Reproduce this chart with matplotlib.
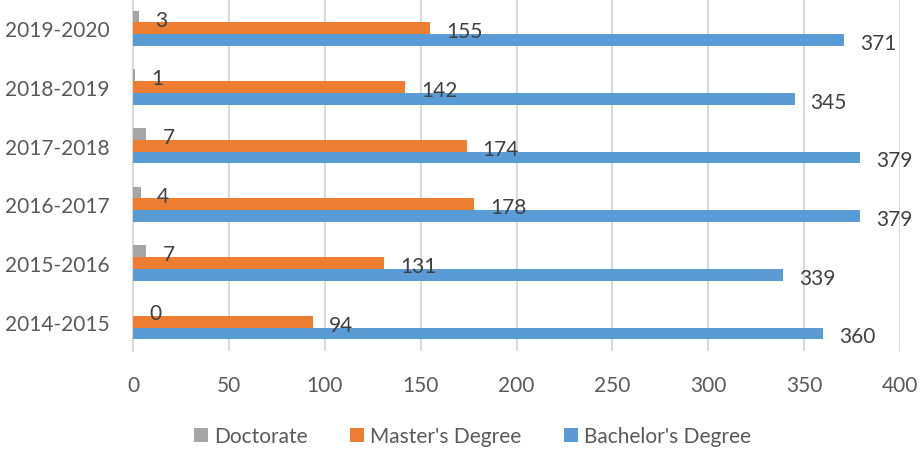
import matplotlib
matplotlib.use("Agg")
import matplotlib.pyplot as plt
import numpy as np

categories = ["2014-2015", "2015-2016", "2016-2017", "2017-2018", "2018-2019", "2019-2020"]
bachelor = [360, 339, 379, 379, 345, 371]
master = [94, 131, 178, 174, 142, 155]
doctorate = [0, 7, 4, 7, 1, 3]
xticks = [0, 50, 100, 150, 200, 250, 300, 350, 400]

plt.rcParams['font.family'] = ['Lato', 'DejaVu Sans']

fig = plt.figure(figsize=(9.22, 4.52), dpi=100)
ax = fig.add_axes([133/922, 1 - 352/452, (900-133)/922, 352/452])

y = np.arange(len(categories))
h = 0.2
series = [
    ("Bachelor's Degree", bachelor, -h, "#5B9BD5"),
    ("Master's Degree", master, 0.0, "#ED7D31"),
    ("Doctorate", doctorate, h, "#A5A5A5"),
]
handles = {}
for name, vals, off, col in series:
    bars = ax.barh(y + off, vals, height=h, color=col, label=name, zorder=3)
    handles[name] = bars
    for yi, v in zip(y + off, vals):
        ax.annotate(str(v), xy=(v, yi), xytext=(11.5, -2.2), textcoords="offset points",
                    ha="left", va="center", fontsize=15, color="#404040", zorder=4)

ax.set_xlim(0, 400)
ax.set_ylim(-0.5, 5.5)
ax.set_xticks(xticks)
ax.set_xticklabels([str(t) for t in xticks])
ax.set_yticks(y)
ax.set_yticklabels(categories)
ax.tick_params(axis="both", length=0, labelsize=15, colors="#595959")
ax.tick_params(axis="x", pad=17)
ax.tick_params(axis="y", pad=17)
ax.xaxis.grid(True, color="#D9D9D9", linewidth=1.5, zorder=0)
for s in ["top", "right", "bottom"]:
    ax.spines[s].set_visible(False)
ax.spines["left"].set_color("#D9D9D9")
ax.spines["left"].set_linewidth(1.5)
ax.spines["left"].set_zorder(1)

order = ["Doctorate", "Master's Degree", "Bachelor's Degree"]
leg = fig.legend([handles[n] for n in order], order, loc="center",
                 bbox_to_anchor=(0.5125, 1 - 437/452), ncol=3, frameon=False,
                 fontsize=15, handlelength=0.67, handleheight=0.67,
                 handletextpad=0.3, columnspacing=2.05)
for t in leg.get_texts():
    t.set_color("#595959")

fig.savefig("out.png", dpi=100)
